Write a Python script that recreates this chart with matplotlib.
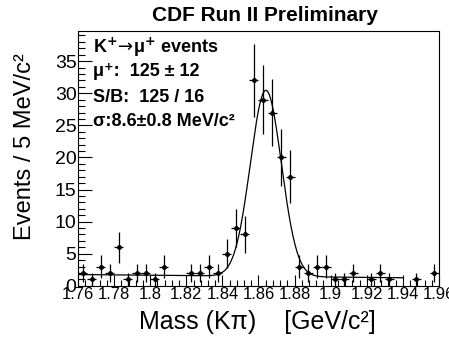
import numpy as np
import matplotlib.pyplot as plt
from matplotlib.ticker import MultipleLocator

plt.rcParams['font.family'] = ['Liberation Sans', 'DejaVu Sans']

# bin centres (5 MeV bins) and counts
mass = [1.7625, 1.7675, 1.7725, 1.7775, 1.7825, 1.7875, 1.7925, 1.7975, 1.8025, 1.8075,
        1.8225, 1.8275, 1.8325, 1.8375, 1.8425, 1.8475, 1.8525, 1.8575, 1.8625, 1.8675,
        1.8725, 1.8775, 1.8825, 1.8875, 1.8925, 1.8975, 1.9025, 1.9075, 1.9125, 1.9225,
        1.9275, 1.9325, 1.9475, 1.9575]
counts = [2, 1, 3, 2, 6, 1, 2, 2, 1, 3,
          2, 2, 3, 2, 5, 9, 8, 32, 29, 27,
          20, 17, 3, 2, 3, 3, 1, 1, 2, 1,
          2, 1, 1, 2]

# fit parameters: gaussian + linear background
fit_mean = 1.8641
fit_sigma = 0.0086
fit_amp = 29.0
bkg_left = 1.75   # at 1.76
bkg_right = 1.25  # at 1.94
fit_range = (1.76, 1.94)

mass = np.array(mass)
counts = np.array(counts)
err = np.sqrt(counts)

fig = plt.figure(figsize=(4.49, 3.37), dpi=100)
ax = fig.add_axes([0.1737, 0.152, 0.804, 0.756])

ax.errorbar(mass, counts, yerr=err, xerr=0.0025, fmt='o', color='black',
            markersize=2.5, elinewidth=0.9, capsize=0)

xf = np.linspace(fit_range[0], fit_range[1], 500)
bkg = bkg_left + (bkg_right - bkg_left) * (xf - fit_range[0]) / (fit_range[1] - fit_range[0])
yf = bkg + fit_amp * np.exp(-0.5 * ((xf - fit_mean) / fit_sigma) ** 2)
ax.plot(xf, yf, color='black', linewidth=0.9)

ax.set_xlim(1.76, 1.96)
ax.set_ylim(0, 39.7)
ax.xaxis.set_major_locator(MultipleLocator(0.02))
ax.xaxis.set_minor_locator(MultipleLocator(0.004))
ax.yaxis.set_major_locator(MultipleLocator(5))
ax.yaxis.set_minor_locator(MultipleLocator(1))
ax.set_xticks(np.arange(1.76, 1.9601, 0.02))
ax.set_xticklabels(['1.76', '1.78', '1.8', '1.82', '1.84', '1.86', '1.88', '1.9', '1.92', '1.94', '1.96'])
ax.tick_params(which='both', direction='in', top=False, right=False, width=0.8)
ax.tick_params(axis='y', which='major', length=10, pad=1, labelsize=14)
ax.tick_params(axis='x', which='major', length=8, pad=1, labelsize=12)
ax.tick_params(axis='y', which='minor', length=5)
ax.tick_params(axis='x', which='minor', length=4)
for s in ax.spines.values():
    s.set_linewidth(0.8)

fig.text(0.59, 0.955, 'CDF Run II Preliminary', ha='center', va='center',
         fontsize=15, fontweight='bold')

lines = [r'K$^{\mathbf{+}}\!\rightarrow\!$μ$^{\mathbf{+}}$ events', 'μ⁺:  125 ± 12',
         'S/B:  125 / 16', 'σ:8.6±0.8 MeV/c²']
ys = [47, 72, 97, 121]
for t, yp in zip(lines, ys):
    fig.text(93 / 449, 1 - yp / 337, t, ha='left', va='center', fontsize=13, fontweight='bold')

fig.text(25 / 449, 1 - 147 / 337, 'Events / 5 MeV/c²', rotation=90, ha='center', va='center', fontsize=17)
fig.text(257 / 449, 1 - 322 / 337, 'Mass (Kπ)    [GeV/c²]', ha='center', va='center', fontsize=18)

fig.savefig('out.png', dpi=100)
